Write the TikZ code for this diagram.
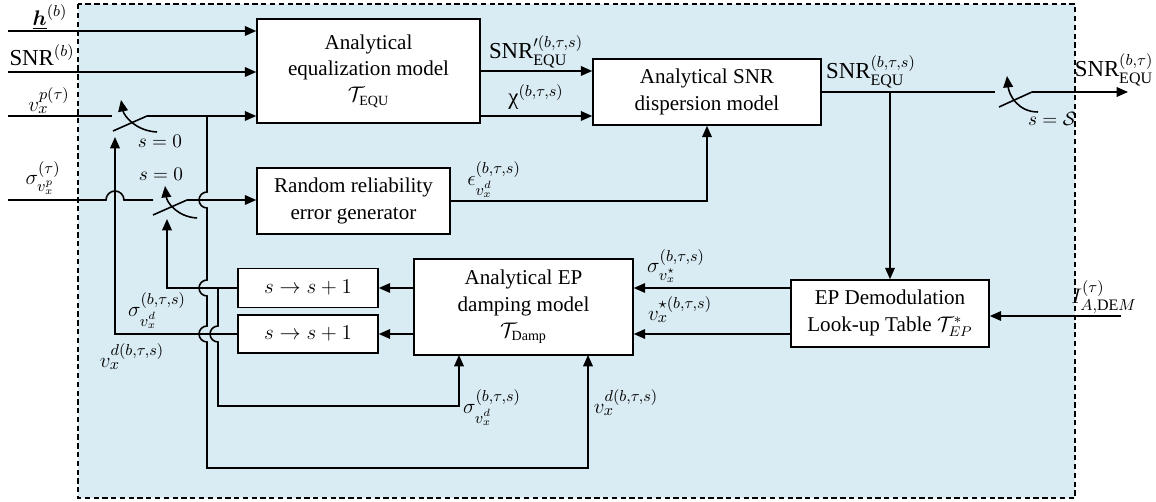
\documentclass[tikz,border=0pt]{standalone}
\usepackage{amsmath}
\usepackage{fontspec}
\setmainfont{Liberation Serif}
\usetikzlibrary{arrows.meta}
\definecolor{bgblue}{RGB}{218,236,243}
\newcommand{\lowsub}[1]{\raisebox{-2.5pt}{$\scriptstyle #1$}}
\tikzset{
  blk/.style={draw, fill=white, align=center, inner sep=1pt},
  sig/.style={-{Triangle[length=6.5pt,width=5.5pt]}},
  lbl/.style={inner sep=0pt, font=\fontsize{13}{16}\selectfont},
  swlbl/.style={inner sep=0pt, font=\fontsize{10.5}{12}\selectfont},
}
\begin{document}
\begin{tikzpicture}[x=0.02cm, y=-0.02cm, line width=0.9pt, font=\fontsize{12}{15}\selectfont]
    \useasboundingbox (0,0) rectangle (1156,502);
    \filldraw[fill=bgblue, line width=0.6pt, dash pattern=on 3pt off 2pt] (78,4) rectangle (1075,498);

    % blocks
    \node[blk, minimum width=4.46cm, minimum height=2.08cm] (equ) at (368.5,71) {Analytical\\equalization model\\$\mathcal{T}_{\text{EQU}}$};
    \node[blk, minimum width=4.56cm, minimum height=1.32cm] (disp) at (707,92) {Analytical SNR\\dispersion model};
    \node[blk, minimum width=3.86cm, minimum height=1.32cm] (rand) at (353.5,201) {Random reliability\\error generator};
    \node[blk, minimum width=4.38cm, minimum height=1.92cm] (damp) at (523.5,307) {Analytical EP\\damping model\\$\mathcal{T}_{\text{Damp}}$};
    \node[blk, minimum width=3.96cm, minimum height=1.34cm] (demod) at (890,313.5) {EP Demodulation\\Look-up Table $\mathcal{T}_{EP}^{*}$};
    \node[blk, minimum width=2.8cm, minimum height=0.78cm] (inc1) at (308,288) {$s\rightarrow s+1$};
    \node[blk, minimum width=2.8cm, minimum height=0.76cm] (inc2) at (308,334) {$s\rightarrow s+1$};

    % inputs
    \coordinate (hin) at (8,31);
    \coordinate (snrin) at (8,72);
    \coordinate (vin) at (8,116);
    \coordinate (sgin) at (8,200);
    \coordinate (iin) at (1121,316);
    \draw[sig] (hin) -- (hin -| equ.west);
    \draw[sig] (snrin) -- (snrin -| equ.west);
    \draw[sig] (iin) -- (iin -| demod.east);

    % switch for v
    \coordinate (va) at (112,116);
    \coordinate (vb) at (147,116);
    \coordinate (vc) at (113,131);
    \coordinate (vj) at (207,116);
    \coordinate (vfb) at (115,137);
    \draw (vin) -- (va);
    \draw (vc) -- (vb);
    \draw[sig] (vb) -- (vb -| equ.west);
    \draw[sig] (157,132) .. controls (136,131) and (124,116) .. (121,100);

    % switch for sigma
    \coordinate (sa) at (153,200);
    \coordinate (sb) at (187,200);
    \coordinate (sc) at (153,215);
    \coordinate (sfb) at (167,219);
    \draw (sgin) -- (106,200) arc[start angle=180, end angle=0, radius=0.18cm] -- (sa);
    \draw (sc) -- (sb);
    \draw[sig] (sb) -- (sb -| rand.west);
    \draw[sig] (197,218) .. controls (178,217) and (167,203) .. (165,186);

    % output switch
    \coordinate (oj) at (890,92);
    \coordinate (oa) at (995,92);
    \coordinate (ob) at (1032,92);
    \coordinate (oc) at (999,107);
    \coordinate (oout) at (1128,92);
    \draw (disp.east) -- (oa);
    \draw (oc) -- (ob);
    \draw[sig] (ob) -- (oout);
    \draw[sig] (1038,112) .. controls (1018,112) and (1009,95) .. (1007,76);
    \draw[sig] (oj) -- (demod.north);

    % forward links
    \draw[sig] (equ.east) -- (equ.east -| disp.west);
    \draw[sig] (vb -| equ.east) -- (vb -| disp.west);
    \draw[sig] (rand.east) -| (disp.south);
    \draw[sig] (demod.west |- inc1) -- (damp.east |- inc1);
    \draw[sig] (demod.west |- inc2) -- (damp.east |- inc2);
    \draw[sig] (damp.west |- inc1) -- (inc1.east);
    \draw[sig] (damp.west |- inc2) -- (inc2.east);

    % feedback links
    \coordinate (sdd) at (459,355);
    \coordinate (vdd) at (588,355);
    \draw[sig] (inc1.west) -| (sfb);
    \draw[sig] (inc2.west) -| (vfb);
    \draw[sig] (vj) -- (207,192) arc[start angle=90, end angle=270, radius=0.16cm]
        -- (207,280) arc[start angle=90, end angle=270, radius=0.16cm]
        -- (207,326) arc[start angle=90, end angle=270, radius=0.16cm]
        -- (207,468) -| (vdd);
    \draw[sig] (218,288) -- (218,326) arc[start angle=90, end angle=270, radius=0.16cm]
        -- (218,406) -| (sdd);

    % labels
    \node[lbl] at (50,17) {$\underline{\boldsymbol{h}}^{(b)}$};
    \node[lbl] at (42,55) {$\text{SNR}^{(b)}$};
    \node[lbl] at (49,101) {$v_x^{p(\tau)}$};
    \node[lbl] at (43,178) {$\sigma_{\lowsub{v_x^p}}^{(\tau)}$};
    \node[swlbl] at (160,141) {$s=0$};
    \node[swlbl] at (161,174) {$s=0$};
    \node[lbl] at (536,52) {$\text{SNR}'^{(b,\tau,s)}_{\text{EQU}}$};
    \node[lbl] at (536,97) {$\text{χ}^{(b,\tau,s)}$};
    \node[lbl] at (871,72) {$\text{SNR}^{(b,\tau,s)}_{\text{EQU}}$};
    \node[swlbl] at (1052,119) {$s=\mathcal{S}$};
    \node[lbl] at (1114,70) {$\text{SNR}^{(b,\tau)}_{\text{EQU}}$};
    \node[lbl] at (494,180) {$\epsilon_{\lowsub{v_x^d}}^{(b,\tau,s)}$};
    \node[lbl] at (676,266) {$\sigma_{\lowsub{v_x^{\star}}}^{(b,\tau,s)}$};
    \node[lbl] at (680,310) {$v_x^{\star(b,\tau,s)}$};
    \node[lbl] at (1104,297) {$I_{A,\text{DE}M}^{(\tau)}$};
    \node[lbl] at (157,311) {$\sigma_{\lowsub{v_x^d}}^{(b,\tau,s)}$};
    \node[lbl] at (132,357) {$v_x^{d(b,\tau,s)}$};
    \node[lbl] at (492,408) {$\sigma_{\lowsub{v_x^d}}^{(b,\tau,s)}$};
    \node[lbl] at (626,403) {$v_x^{d(b,\tau,s)}$};
\end{tikzpicture}
\end{document}
